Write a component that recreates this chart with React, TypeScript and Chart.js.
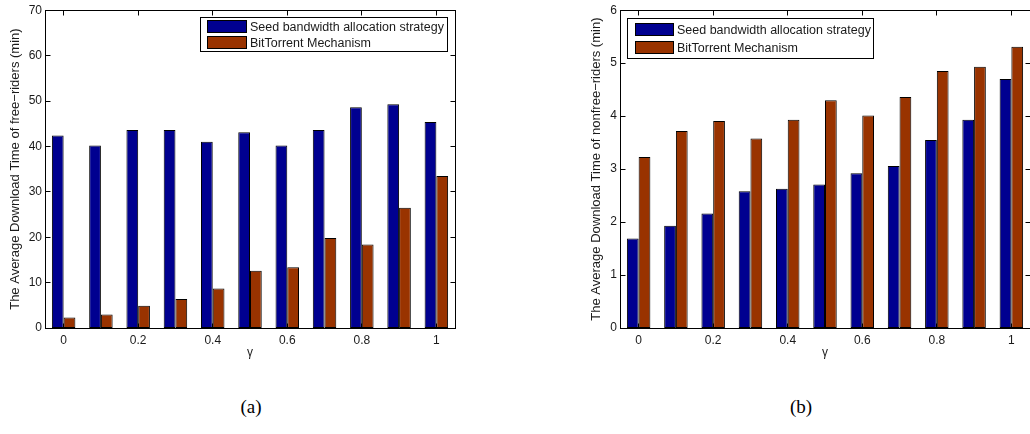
import React, { useEffect, useRef } from 'react';
import { Chart, registerables } from 'chart.js';

Chart.register(...registerables);

// ---- data ----
const gammaLabels = ['0', '0.1', '0.2', '0.3', '0.4', '0.5', '0.6', '0.7', '0.8', '0.9', '1'];
const xTickLabels = ['0', '0.2', '0.4', '0.6', '0.8', '1'];
const seriesNames = ['Seed bandwidth allocation strategy', 'BitTorrent Mechanism'];

const freeSeed = [42.4, 40.2, 43.6, 43.6, 41.0, 43.1, 40.2, 43.6, 48.6, 49.3, 45.4];
const freeBT = [2.3, 3.0, 4.9, 6.4, 8.7, 12.6, 13.4, 19.8, 18.4, 26.5, 33.5];

const nonfreeSeed = [1.69, 1.93, 2.16, 2.58, 2.63, 2.71, 2.92, 3.06, 3.55, 3.93, 4.7];
const nonfreeBT = [3.23, 3.72, 3.91, 3.58, 3.93, 4.3, 4.01, 4.36, 4.85, 4.93, 5.31];

const yTitleA = 'The Average Download Time of free\u2212riders (min)';
const yTitleB = 'The Average Download Time of nonfree\u2212riders (min)';

const BLUE = '#000090';
const BROWN = '#993300';
const FONT = "'Liberation Sans', Arial, Helvetica, sans-serif";
const TEXT = '#1a1a1a';

const px = (v: number) => Math.floor(v) + 0.5;

const matlabPlugin = {
  id: 'matlab',
  afterDraw(chart: any, _args: any, opts: any) {
    const { ctx, chartArea: a, scales } = chart;
    const xs = scales.x;
    const ys = scales.y;
    const L = px(a.left);
    const R = px(a.right);
    const T = px(a.top);
    const B = px(a.bottom);
    const tl = 5;
    ctx.save();
    ctx.strokeStyle = '#000';
    ctx.lineWidth = 1;
    ctx.beginPath();
    // x ticks (inward, top and bottom)
    gammaLabels.forEach((lab, i) => {
      if (!xTickLabels.includes(lab)) return;
      const p = px(xs.getPixelForValue(i));
      ctx.moveTo(p, B);
      ctx.lineTo(p, B - tl);
      ctx.moveTo(p, T);
      ctx.lineTo(p, T + tl);
    });
    // y ticks (inward, left and right)
    ys.ticks.forEach((t: any) => {
      const p = px(ys.getPixelForValue(t.value));
      ctx.moveTo(L, p);
      ctx.lineTo(L + tl, p);
      ctx.moveTo(R, p);
      ctx.lineTo(R - tl, p);
    });
    ctx.stroke();
    ctx.strokeRect(L, T, R - L, B - T);

    // legend
    const lg = opts.legend;
    if (lg) {
      const bx = lg.anchorRight ? a.right - lg.dx - lg.w : a.left + lg.dx;
      const by = a.top + lg.dy;
      ctx.fillStyle = '#fff';
      ctx.fillRect(px(bx), px(by), lg.w, lg.h);
      ctx.strokeRect(px(bx), px(by), lg.w, lg.h);
      ctx.font = `${lg.fontSize}px ${FONT}`;
      ctx.textBaseline = 'middle';
      ctx.textAlign = 'left';
      chart.data.datasets.forEach((ds: any, i: number) => {
        const sy = by + lg.rows[i];
        ctx.fillStyle = ds.backgroundColor;
        ctx.fillRect(px(bx + lg.sx), px(sy), lg.sw, lg.sh);
        ctx.strokeRect(px(bx + lg.sx), px(sy), lg.sw, lg.sh);
        ctx.fillStyle = TEXT;
        ctx.fillText(ds.label, bx + lg.tx, sy + lg.sh / 2 + 1);
      });
    }
    ctx.restore();
  },
};

function makeChart(
  canvas: HTMLCanvasElement,
  seed: number[],
  bt: number[],
  yMax: number,
  yStep: number,
  yTitle: string,
  titlePad: number,
  legend: any
) {
  return new Chart(canvas, {
    type: 'bar',
    data: {
      labels: gammaLabels,
      datasets: [
        {
          label: seriesNames[0],
          data: seed,
          backgroundColor: BLUE,
          borderColor: '#000',
          borderWidth: 1,
          borderSkipped: false,
          categoryPercentage: 0.63,
          barPercentage: 1.0,
        },
        {
          label: seriesNames[1],
          data: bt,
          backgroundColor: BROWN,
          borderColor: '#000',
          borderWidth: 1,
          borderSkipped: false,
          categoryPercentage: 0.63,
          barPercentage: 1.0,
        },
      ],
    },
    options: {
      responsive: false,
      animation: false,
      devicePixelRatio: 1,
      layout: { padding: { top: 5, right: 15, left: 0, bottom: 0 } },
      plugins: {
        legend: { display: false },
        tooltip: { enabled: false },
        matlab: { legend },
      } as any,
      scales: {
        x: {
          type: 'category',
          offset: true,
          grid: { display: false, drawTicks: false },
          border: { display: false },
          ticks: {
            autoSkip: false,
            maxRotation: 0,
            padding: 5,
            color: TEXT,
            font: { family: FONT, size: 12 },
            callback: (_v: any, idx: number) =>
              xTickLabels.includes(gammaLabels[idx]) ? gammaLabels[idx] : '',
          },
          title: {
            display: true,
            text: '\u03B3',
            color: TEXT,
            font: { family: FONT, size: 12 },
            padding: { top: 0, bottom: 10 },
          },
          afterFit: (s: any) => {
            s.height = 42;
          },
        },
        y: {
          min: 0,
          max: yMax,
          grid: { display: false, drawTicks: false },
          border: { display: false },
          ticks: {
            stepSize: yStep,
            padding: 3,
            color: TEXT,
            font: { family: FONT, size: 12 },
          },
          title: {
            display: true,
            text: yTitle,
            color: TEXT,
            font: { family: FONT, size: 13 },
            padding: { top: titlePad, bottom: 0 },
          },
          afterFit: (s: any) => {
            s.width = 45;
          },
        },
      },
    } as any,
    plugins: [matlabPlugin as any],
  });
}

export default function App() {
  const refA = useRef<HTMLCanvasElement>(null);
  const refB = useRef<HTMLCanvasElement>(null);

  useEffect(() => {
    const legendA = {
      anchorRight: true,
      dx: 8,
      dy: 7,
      w: 247,
      h: 34,
      rows: [3, 19],
      sx: 7,
      sw: 39,
      sh: 12,
      tx: 50,
      fontSize: 12.5,
    };
    const legendB = {
      anchorRight: false,
      dx: 7,
      dy: 8,
      w: 246,
      h: 40,
      rows: [5, 23],
      sx: 8,
      sw: 38,
      sh: 12,
      tx: 50,
      fontSize: 12.5,
    };
    const a = makeChart(refA.current!, freeSeed, freeBT, 70, 10, yTitleA, 8, legendA);
    const b = makeChart(refB.current!, nonfreeSeed, nonfreeBT, 6, 1, yTitleB, 14, legendB);
    return () => {
      a.destroy();
      b.destroy();
    };
  }, []);

  const caption: React.CSSProperties = {
    position: 'absolute',
    top: 396,
    width: 60,
    textAlign: 'center',
    fontFamily: "'Liberation Serif', 'Times New Roman', serif",
    fontSize: 19,
    color: '#000',
    lineHeight: '22px',
  };

  return (
    <div
      style={{
        position: 'fixed',
        left: 0,
        top: 0,
        width: 1030,
        height: 434,
        overflow: 'hidden',
        background: '#fff',
      }}
    >
      <canvas
        ref={refA}
        width={470}
        height={370}
        style={{ position: 'absolute', left: 0, top: 0 }}
      />
      <canvas
        ref={refB}
        width={470}
        height={370}
        style={{ position: 'absolute', left: 575, top: 0 }}
      />
      <div style={{ ...caption, left: 221 }}>(a)</div>
      <div style={{ ...caption, left: 771 }}>(b)</div>
    </div>
  );
}
